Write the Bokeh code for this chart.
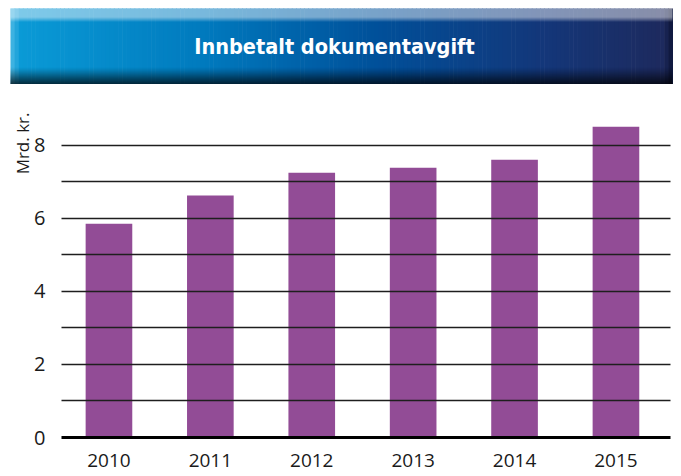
from bokeh.plotting import figure
from bokeh.models import Range1d, FixedTicker, Title
from bokeh.layouts import column
from bokeh.core.properties import value
from bokeh.embed import file_html
from bokeh.resources import INLINE

# ---- data ----
title_text = "Innbetalt dokumentavgift"
unit_label = "Mrd. kr."
years = ["2010", "2011", "2012", "2013", "2014", "2015"]
values = [5.85, 6.62, 7.24, 7.38, 7.60, 8.50]
y_ticks = [0, 2, 4, 6, 8]
grid_values = [1, 2, 3, 4, 5, 6, 7, 8, 9]

W = 673

# ---- banner ----
def hex2rgb(h):
    h = h.lstrip("#")
    return tuple(int(h[i:i + 2], 16) for i in (0, 2, 4))

def rgb2hex(c):
    return "#%02x%02x%02x" % tuple(max(0, min(255, int(round(v)))) for v in c)

stops = [(0.0, "#4ab8e4"), (0.015, "#0a9ad6"), (0.3, "#0079bd"),
         (0.55, "#00509a"), (0.8, "#13377a"), (0.985, "#1d2a5e"), (1.0, "#0c1538")]

def grad(t):
    for (p0, c0), (p1, c1) in zip(stops[:-1], stops[1:]):
        if p0 <= t <= p1:
            f = (t - p0) / (p1 - p0) if p1 > p0 else 0
            a, b_ = hex2rgb(c0), hex2rgb(c1)
            return rgb2hex([a[i] + (b_[i] - a[i]) * f for i in range(3)])
    return stops[-1][1]

BH = 84
b = figure(width=W, height=BH, x_range=Range1d(0, W), y_range=Range1d(0, BH),
           output_backend="svg", toolbar_location=None, min_border=0,
           x_axis_location=None, y_axis_location=None)
b.grid.visible = False
b.outline_line_color = None
b.frame_align = False

x0, x1 = 10, 672
ytop, ybot = 76, 0
N = 160
lefts, rights, cols = [], [], []
for i in range(N):
    l = x0 + (x1 - x0) * i / N
    r = x0 + (x1 - x0) * (i + 1) / N
    lefts.append(l)
    rights.append(r + 0.6)
    cols.append(grad((i + 0.5) / N))
b.quad(left=lefts, right=rights, top=ytop, bottom=ybot, fill_color=cols, line_color=None)

# top highlight
tb, tt, ta = [], [], []
for k in range(13):
    top = ytop - k
    a = 0.55 if k < 9 else 0.55 * (13 - k) / 5
    tb.append(top - 1.05); tt.append(top); ta.append(a)
b.quad(left=x0, right=x1, top=tt, bottom=tb, fill_color="white", fill_alpha=ta, line_color=None)

# bottom shadow
sb, st, sa = [], [], []
for k in range(17):
    bot = ybot + k
    sa.append(0.92 * (1 - k / 17) ** 1.3)
    sb.append(bot); st.append(bot + 1.05)
b.quad(left=x0, right=x1, top=st, bottom=sb, fill_color="black", fill_alpha=sa, line_color=None)

b.text(x=[334], y=[BH - 46], text=[title_text],
       text_font=value("'Liberation Sans Narrow', 'DejaVu Sans Condensed', Roboto, sans-serif"),
       text_font_style="bold", text_font_size="21.5px", text_color="white",
       text_align="center", text_baseline="middle")

# ---- chart ----
xs = [int(y) for y in years]
p = figure(width=W, height=389, x_range=Range1d(2009.532, 2015.538), y_range=Range1d(0, 9),
           output_backend="svg", toolbar_location=None,
           min_border_left=61, min_border_right=3, min_border_top=24, min_border_bottom=36)
p.outline_line_color = None
p.xgrid.visible = False
p.frame_align = False

p.vbar(x=xs, top=values, width=0.46, fill_color="#924c96", line_color=None)

p.ygrid.ticker = FixedTicker(ticks=grid_values)
p.ygrid.grid_line_color = "#1e1e1e"
p.ygrid.grid_line_width = 1.5
p.ygrid.level = "overlay"

p.yaxis.ticker = FixedTicker(ticks=y_ticks)
p.yaxis.axis_line_color = None
p.yaxis.major_tick_line_color = None
p.yaxis.minor_tick_line_color = None
p.yaxis.major_tick_out = 0
p.yaxis.major_tick_in = 0
p.yaxis.major_label_text_font = "Open Sans"
p.yaxis.major_label_text_font_size = "20px"
p.yaxis.major_label_text_color = "#1a1a1a"
p.yaxis.major_label_standoff = 16

p.xaxis.ticker = FixedTicker(ticks=xs)
p.xaxis.axis_line_color = "black"
p.xaxis.axis_line_width = 3
p.xaxis.major_tick_line_color = None
p.xaxis.minor_tick_line_color = None
p.xaxis.major_tick_out = 0
p.xaxis.major_tick_in = 0
p.xaxis.major_label_text_font = "Open Sans"
p.xaxis.major_label_text_font_size = "19px"
p.xaxis.major_label_text_color = "#1a1a1a"
p.xaxis.major_label_standoff = 16

p.add_layout(Title(text=unit_label, align="right", text_font="Open Sans",
                   text_font_size="17px", text_font_style="normal",
                   text_color="#1a1a1a", offset=4, standoff=-5), "left")

layout = column(b, p, spacing=0)
open("out.html", "w").write(file_html(layout, INLINE))
